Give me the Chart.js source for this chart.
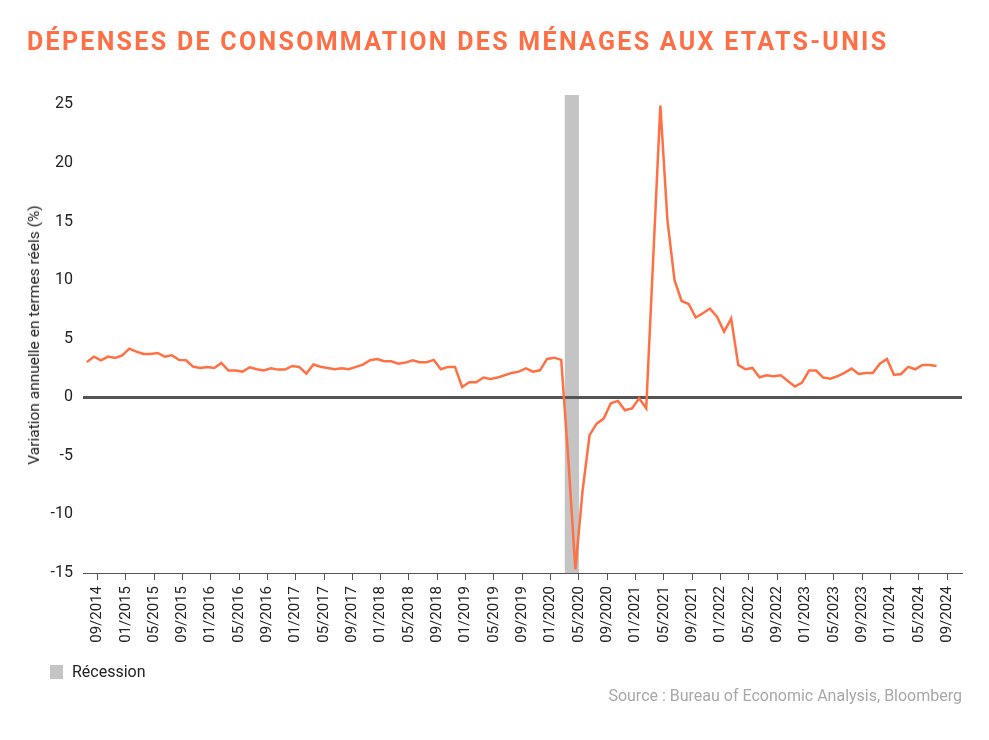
<!DOCTYPE html>
<html>
<head>
<meta charset="utf-8">
<script src="https://cdn.jsdelivr.net/npm/chart.js@4.4.1/dist/chart.umd.min.js"></script>
<style>
  body { margin: 0; background: #fff; font-family: "Liberation Sans Narrow", "Roboto", sans-serif; }
  #wrap { position: relative; width: 989px; height: 740px; }
  #chart { position: absolute; left: 0; top: 0; }
  .title { position: absolute; left: 27px; top: 27px; color: #ff6f45; font-weight: bold; font-size: 25px; letter-spacing: 2.3px; white-space: nowrap; }
  .ytitle { position: absolute; left: 34px; top: 335px; transform: translate(-50%, -50%) rotate(-90deg); font-size: 15.5px; color: #222; white-space: nowrap; }
  .legend { position: absolute; left: 50px; top: 662px; font-size: 16px; color: #222; }
  .legend span { display: inline-block; width: 13px; height: 14px; background: #c4c4c4; vertical-align: -2px; margin-right: 9px; }
  .source { position: absolute; right: 27px; top: 686px; font-size: 16px; color: #a8a8a8; white-space: nowrap; }
</style>
</head>
<body>
<div id="wrap">
  <canvas id="chart" width="989" height="740"></canvas>
  <div class="title">DÉPENSES DE CONSOMMATION DES MÉNAGES AUX ETATS-UNIS</div>
  <div class="ytitle">Variation annuelle en termes réels (%)</div>
  <div class="legend"><span></span>Récession</div>
  <div class="source">Source : Bureau of Economic Analysis, Bloomberg</div>
</div>
<script>
  // Monthly data, 07/2014 -> 07/2024 (year-on-year, %)
  var firstMonth = '07/2014';
  var values = [
    3.0, 3.47, 3.16, 3.47, 3.36, 3.58, 4.15, 3.9, 3.7, 3.7, 3.78, 3.47,
    3.58, 3.19, 3.16, 2.62, 2.5, 2.59, 2.5, 2.93, 2.28, 2.28, 2.19, 2.56,
    2.39, 2.28, 2.47, 2.36, 2.36, 2.67, 2.59, 2.02, 2.8, 2.6, 2.5, 2.4,
    2.47, 2.39, 2.59, 2.79, 3.16, 3.27, 3.07, 3.07, 2.87, 2.96, 3.16, 2.99,
    2.99, 3.19, 2.39, 2.59, 2.59, 0.88, 1.28, 1.28, 1.68, 1.56, 1.68, 1.88,
    2.08, 2.19, 2.47, 2.19, 2.3, 3.27, 3.38, 3.19, -5.3, -14.7, -8.05, -3.24,
    -2.25, -1.82, -0.51, -0.31, -1.11, -0.95, -0.09, -0.94, 12.0, 24.9, 15.1, 10.0,
    8.22, 7.96, 6.8, 7.17, 7.57, 6.88, 5.6, 6.71, 2.76, 2.39, 2.5, 1.71,
    1.88, 1.79, 1.88, 1.39, 0.91, 1.25, 2.28, 2.28, 1.68, 1.59, 1.79, 2.08,
    2.45, 1.99, 2.08, 2.08, 2.87, 3.27, 1.91, 1.99, 2.59, 2.39, 2.76, 2.76,
    2.67
  ];
  var xTickLabels = [
    '09/2014', '01/2015', '05/2015', '09/2015', '01/2016', '05/2016', '09/2016',
    '01/2017', '05/2017', '09/2017', '01/2018', '05/2018', '09/2018', '01/2019',
    '05/2019', '09/2019', '01/2020', '05/2020', '09/2020', '01/2021', '05/2021',
    '09/2021', '01/2022', '05/2022', '09/2022', '01/2023', '05/2023', '09/2023',
    '01/2024', '05/2024', '09/2024'
  ];
  var yTicks = [-15, -10, -5, 0, 5, 10, 15, 20, 25];
  var recession = ['03/2020', '04/2020'];

  // month index relative to the first month; points sit mid-month
  function monthIndex(label) {
    var p = label.split('/'), f = firstMonth.split('/');
    return (parseInt(p[1]) - parseInt(f[1])) * 12 + (parseInt(p[0]) - parseInt(f[0]));
  }
  var tickPos = xTickLabels.map(function (l) { return monthIndex(l) - 0.5; });

  var points = values.map(function (v, i) { return {x: i, y: v}; });

  var recessionBand = {
    id: 'recessionBand',
    beforeDraw: function (chart) {
      var ctx = chart.ctx, x = chart.scales.x, area = chart.chartArea;
      var x0 = x.getPixelForValue(monthIndex(recession[0]) - 0.5);
      var x1 = x.getPixelForValue(monthIndex(recession[1]) + 0.5);
      ctx.save();
      ctx.fillStyle = '#c4c4c4';
      ctx.fillRect(x0, area.top, x1 - x0, area.bottom - area.top);
      ctx.restore();
    }
  };

  var font = '"Liberation Sans Narrow", "Roboto", sans-serif';

  new Chart(document.getElementById('chart'), {
    type: 'line',
    data: {
      datasets: [{
        data: points,
        borderColor: '#ff7043',
        borderWidth: 2.5,
        pointRadius: 0,
        tension: 0,
        fill: false
      }]
    },
    options: {
      responsive: false,
      animation: false,
      events: [],
      layout: {padding: {top: 95, right: 27, bottom: 87, left: 0}},
      plugins: {legend: {display: false}, tooltip: {enabled: false}},
      scales: {
        x: {
          type: 'linear',
          min: -0.54,
          max: 123.6,
          afterBuildTicks: function (scale) {
            scale.ticks = tickPos.map(function (v) { return {value: v}; });
          },
          afterFit: function (scale) { scale.height = 80; },
          border: {display: true, color: '#555', width: 1},
          grid: {drawOnChartArea: false, drawTicks: true, tickLength: 7, color: '#555'},
          ticks: {
            autoSkip: false,
            minRotation: 90,
            maxRotation: 90,
            padding: 6,
            color: '#222',
            font: {family: font, size: 15},
            callback: function (value, index) { return xTickLabels[index]; }
          }
        },
        y: {
          min: -15,
          max: 25.8,
          afterBuildTicks: function (scale) {
            scale.ticks = yTicks.map(function (v) { return {value: v}; });
          },
          afterFit: function (scale) { scale.width = 83; },
          border: {display: false},
          grid: {
            drawTicks: false,
            color: function (c) { return c.tick && c.tick.value === 0 ? '#555' : 'rgba(0,0,0,0)'; },
            lineWidth: function (c) { return c.tick && c.tick.value === 0 ? 3 : 0; }
          },
          ticks: {
            padding: 10,
            color: '#222',
            font: {family: font, size: 16}
          }
        }
      }
    },
    plugins: [recessionBand]
  });
</script>
</body>
</html>
